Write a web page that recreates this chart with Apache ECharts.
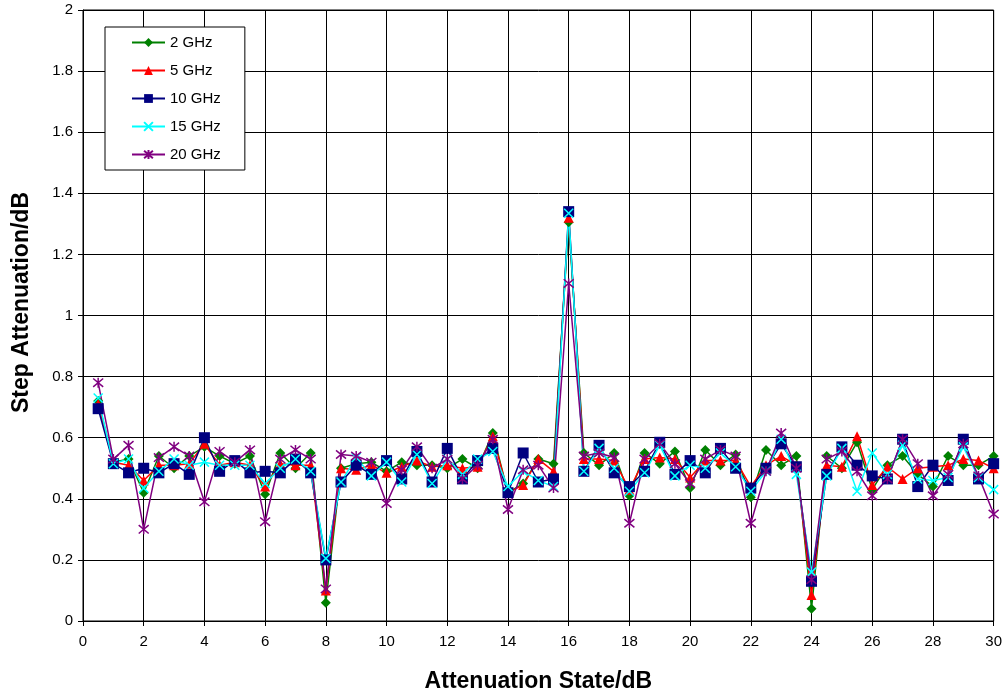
<!DOCTYPE html>
<html>
<head>
<meta charset="utf-8">
<script src="https://cdn.jsdelivr.net/npm/echarts@6/dist/echarts.min.js"></script>
<style>
  html, body { margin: 0; padding: 0; background: #fff; }
  #chart { width: 1005px; height: 698px; }
</style>
</head>
<body>
<div id="chart"></div>
<script>
// attenuation states 0.5 .. 30 dB, step 0.5
const states = [0.5, 1, 1.5, 2, 2.5, 3, 3.5, 4, 4.5, 5, 5.5, 6, 6.5, 7, 7.5, 8, 8.5, 9, 9.5, 10,
  10.5, 11, 11.5, 12, 12.5, 13, 13.5, 14, 14.5, 15, 15.5, 16, 16.5, 17, 17.5, 18, 18.5, 19, 19.5, 20,
  20.5, 21, 21.5, 22, 22.5, 23, 23.5, 24, 24.5, 25, 25.5, 26, 26.5, 27, 27.5, 28, 28.5, 29, 29.5, 30];

const ghz2 = [0.72, 0.52, 0.53, 0.42, 0.54, 0.50, 0.54, 0.57, 0.54, 0.515, 0.54, 0.415, 0.55, 0.50, 0.55, 0.06, 0.50, 0.515, 0.52, 0.49,
  0.52, 0.51, 0.51, 0.50, 0.53, 0.50, 0.615, 0.42, 0.45, 0.53, 0.515, 1.305, 0.55, 0.51, 0.55, 0.41, 0.55, 0.515, 0.555, 0.435,
  0.56, 0.51, 0.545, 0.405, 0.56, 0.51, 0.54, 0.04, 0.54, 0.50, 0.585, 0.43, 0.51, 0.54, 0.48, 0.44, 0.54, 0.51, 0.51, 0.54];
const ghz5 = [0.71, 0.52, 0.51, 0.46, 0.51, 0.51, 0.515, 0.58, 0.51, 0.52, 0.51, 0.44, 0.515, 0.51, 0.51, 0.10, 0.50, 0.495, 0.51, 0.485,
  0.505, 0.525, 0.505, 0.51, 0.50, 0.505, 0.605, 0.42, 0.445, 0.53, 0.49, 1.32, 0.53, 0.53, 0.525, 0.43, 0.53, 0.535, 0.53, 0.47,
  0.525, 0.525, 0.525, 0.44, 0.51, 0.54, 0.51, 0.085, 0.51, 0.505, 0.605, 0.445, 0.505, 0.465, 0.50, 0.505, 0.51, 0.53, 0.525, 0.50];
const ghz10 = [0.695, 0.515, 0.485, 0.50, 0.485, 0.515, 0.48, 0.60, 0.49, 0.525, 0.485, 0.49, 0.485, 0.53, 0.485, 0.20, 0.455, 0.51, 0.48, 0.525,
  0.465, 0.555, 0.455, 0.565, 0.465, 0.525, 0.565, 0.42, 0.55, 0.455, 0.465, 1.34, 0.49, 0.575, 0.485, 0.44, 0.49, 0.585, 0.48, 0.525,
  0.485, 0.565, 0.50, 0.435, 0.50, 0.58, 0.505, 0.13, 0.48, 0.57, 0.51, 0.475, 0.465, 0.595, 0.44, 0.51, 0.46, 0.595, 0.465, 0.515];
const ghz15 = [0.73, 0.515, 0.53, 0.435, 0.49, 0.53, 0.51, 0.52, 0.51, 0.51, 0.51, 0.45, 0.50, 0.53, 0.49, 0.205, 0.455, 0.535, 0.475, 0.52,
  0.455, 0.545, 0.45, 0.53, 0.48, 0.53, 0.555, 0.44, 0.49, 0.46, 0.44, 1.335, 0.49, 0.565, 0.50, 0.425, 0.485, 0.575, 0.475, 0.51,
  0.50, 0.55, 0.505, 0.425, 0.49, 0.595, 0.48, 0.16, 0.475, 0.565, 0.425, 0.55, 0.48, 0.575, 0.465, 0.46, 0.47, 0.57, 0.47, 0.43];
const ghz20 = [0.78, 0.53, 0.575, 0.30, 0.535, 0.57, 0.54, 0.39, 0.555, 0.52, 0.56, 0.325, 0.53, 0.56, 0.53, 0.105, 0.545, 0.54, 0.52, 0.385,
  0.495, 0.57, 0.50, 0.53, 0.465, 0.51, 0.595, 0.365, 0.495, 0.51, 0.435, 1.105, 0.54, 0.55, 0.535, 0.32, 0.53, 0.58, 0.515, 0.45,
  0.53, 0.56, 0.54, 0.32, 0.49, 0.615, 0.50, 0.135, 0.53, 0.555, 0.49, 0.41, 0.465, 0.595, 0.515, 0.41, 0.48, 0.58, 0.475, 0.35];

const xTicks = [0, 2, 4, 6, 8, 10, 12, 14, 16, 18, 20, 22, 24, 26, 28, 30];
const yTicks = [0, 0.2, 0.4, 0.6, 0.8, 1, 1.2, 1.4, 1.6, 1.8, 2];

const crossPath = 'path://M0,0L10,10M10,0L0,10';
const starPath = 'path://M0,0L10,10M10,0L0,10M5,-1L5,11';

const pairs = (vals) => states.map((x, i) => [x, vals[i]]);

const makeSeries = (name, vals, color, symbol, size, stroked) => ({
  name: name,
  type: 'line',
  data: pairs(vals),
  symbol: symbol,
  symbolSize: size,
  showAllSymbol: true,
  animation: false,
  lineStyle: { color: color, width: 1.5 },
  itemStyle: stroked
    ? { color: 'none', borderColor: color, borderWidth: 1.5 }
    : { color: color, borderColor: color, borderWidth: 0 }
});

const chart = echarts.init(document.getElementById('chart'));

const option = {
  backgroundColor: '#fff',
  textStyle: { fontFamily: 'Liberation Sans, Arial, sans-serif' },
  grid: {
    left: 83, right: 10, top: 10, bottom: 76,
    show: true, borderColor: '#000', borderWidth: 1
  },
  legend: {
    orient: 'vertical',
    left: 105, top: 27,
    padding: [8, 24, 8, 26],
    itemGap: 13,
    itemWidth: 33,
    itemHeight: 11,
    backgroundColor: '#fff',
    borderColor: '#000',
    borderWidth: 1,
    textStyle: { fontSize: 15, color: '#000', fontFamily: 'Liberation Sans, Arial, sans-serif' },
    data: ['2 GHz', '5 GHz', '10 GHz', '15 GHz', '20 GHz']
  },
  xAxis: {
    type: 'value',
    min: xTicks[0],
    max: xTicks[xTicks.length - 1],
    interval: xTicks[1] - xTicks[0],
    name: 'Attenuation State/dB',
    nameLocation: 'middle',
    nameGap: 49,
    nameTextStyle: { fontSize: 23, fontWeight: 'bold', color: '#000' },
    axisLine: { lineStyle: { color: '#000' } },
    axisTick: { show: true, inside: false, length: 5, lineStyle: { color: '#000' } },
    axisLabel: { fontSize: 15, color: '#000', margin: 13 },
    splitLine: { show: true, lineStyle: { color: '#000', width: 1 } }
  },
  yAxis: {
    type: 'value',
    min: yTicks[0],
    max: yTicks[yTicks.length - 1],
    interval: 0.2,
    name: 'Step Attenuation/dB',
    nameLocation: 'middle',
    nameGap: 50,
    nameTextStyle: { fontSize: 23, fontWeight: 'bold', color: '#000', padding: [0, 0, 0, 26] },
    axisLine: { show: true, lineStyle: { color: '#000' } },
    axisTick: { show: true, inside: false, length: 5, lineStyle: { color: '#000' } },
    axisLabel: { fontSize: 15, color: '#000', margin: 10 },
    splitLine: { show: true, lineStyle: { color: '#000', width: 1 } }
  },
  series: [
    makeSeries('2 GHz', ghz2, '#008000', 'diamond', 10, false),
    makeSeries('5 GHz', ghz5, '#ff0000', 'triangle', 10, false),
    makeSeries('10 GHz', ghz10, '#000080', 'rect', 11, false),
    makeSeries('15 GHz', ghz15, '#00ffff', crossPath, 9, true),
    makeSeries('20 GHz', ghz20, '#800080', starPath, 10, true)
  ]
};

chart.setOption(option);
</script>
</body>
</html>
